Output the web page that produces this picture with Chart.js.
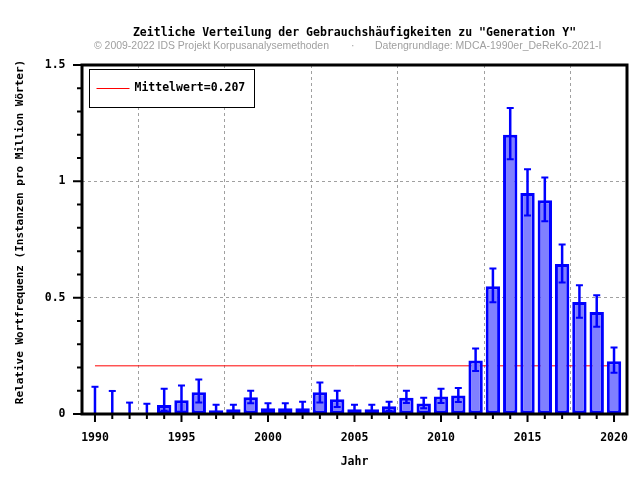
<!DOCTYPE html>
<html>
<head>
<meta charset="utf-8">
<script src="https://cdn.jsdelivr.net/npm/chart.js@4.4.1/dist/chart.umd.min.js"></script>
<style>
  body { margin: 0; background: #fff; }
</style>
</head>
<body>
<canvas id="myChart" width="640" height="480"></canvas>
<script>
const years = [
  1990, 1991, 1992, 1993, 1994, 1995, 1996, 1997, 1998, 1999,
  2000, 2001, 2002, 2003, 2004, 2005, 2006, 2007, 2008, 2009,
  2010, 2011, 2012, 2013, 2014, 2015, 2016, 2017, 2018, 2019, 2020,
];

const values = [
  0, 0, 0, 0, 0.039, 0.059, 0.094, 0.016, 0.020, 0.072,
  0.025, 0.025, 0.025, 0.094, 0.063, 0.020, 0.020, 0.033, 0.070, 0.045,
  0.075, 0.079, 0.230, 0.549, 1.200, 0.950, 0.919, 0.645, 0.481, 0.438, 0.227,
];

const errLow = [
  0, 0, 0, 0, 0.014, 0.010, 0.049, 0.002, 0.003, 0.046,
  0.006, 0.006, 0.004, 0.049, 0.030, 0.003, 0.003, 0.014, 0.047, 0.025,
  0.047, 0.052, 0.185, 0.480, 1.095, 0.853, 0.828, 0.565, 0.414, 0.375, 0.177,
];

const errHigh = [
  0.117, 0.099, 0.049, 0.044, 0.108, 0.122, 0.148, 0.040, 0.040, 0.100,
  0.046, 0.046, 0.053, 0.135, 0.100, 0.040, 0.040, 0.053, 0.100, 0.070,
  0.108, 0.112, 0.282, 0.625, 1.315, 1.052, 1.017, 0.728, 0.553, 0.510, 0.286,
];

const meanValue = 0.207;
const yTicks = [0, 0.5, 1, 1.5];

const monoFont = { family: "'DejaVu Sans Mono', monospace", size: 11.5, weight: "bold" };

// error bars, frame, ticks, legend and header drawn on top
const extras = {
  id: "extras",
  afterDatasetsDraw(chart) {
    const ctx = chart.ctx;
    const xs = chart.scales.x;
    const ys = chart.scales.y;
    const area = chart.chartArea;
    ctx.save();

    // error bars
    ctx.strokeStyle = "#0000ff";
    years.forEach((yr, i) => {
      const px = xs.getPixelForValue(yr);
      const top = ys.getPixelForValue(errHigh[i]);
      const bot = ys.getPixelForValue(errLow[i]);
      ctx.lineWidth = 2.5;
      ctx.beginPath();
      ctx.moveTo(px, bot);
      ctx.lineTo(px, top);
      ctx.stroke();
      ctx.lineWidth = 2;
      ctx.beginPath();
      ctx.moveTo(px - 3.5, top);
      ctx.lineTo(px + 3.5, top);
      if (errLow[i] > 0) {
        ctx.moveTo(px - 3.5, bot);
        ctx.lineTo(px + 3.5, bot);
      }
      ctx.stroke();
    });

    // frame
    ctx.strokeStyle = "#000";
    ctx.lineWidth = 3;
    ctx.strokeRect(area.left, area.top, area.right - area.left, area.bottom - area.top);

    // tick marks
    ctx.lineWidth = 2;
    ctx.beginPath();
    years.forEach((yr) => {
      const px = xs.getPixelForValue(yr);
      const len = yr % 5 === 0 ? 8 : 5;
      ctx.moveTo(px, area.bottom);
      ctx.lineTo(px, area.bottom + len);
    });
    for (let k = 0; k <= 15; k++) {
      const py = ys.getPixelForValue(k / 10);
      const len = k % 5 === 0 ? 9 : 5;
      ctx.moveTo(area.left, py);
      ctx.lineTo(area.left - len, py);
    }
    ctx.stroke();

    // legend
    const lx = area.left + 7.5;
    const ly = area.top + 4.5;
    ctx.fillStyle = "#fff";
    ctx.fillRect(lx, ly, 165, 38);
    ctx.strokeStyle = "#000";
    ctx.lineWidth = 1;
    ctx.strokeRect(lx, ly, 165, 38);
    ctx.strokeStyle = "#ff0000";
    ctx.beginPath();
    ctx.moveTo(lx + 7, ly + 19);
    ctx.lineTo(lx + 40, ly + 19);
    ctx.stroke();
    ctx.fillStyle = "#000";
    ctx.font = "bold 11.5px 'DejaVu Sans Mono', monospace";
    ctx.textBaseline = "middle";
    ctx.textAlign = "left";
    ctx.fillText(chart.data.datasets[1].label, lx + 45, ly + 19);

    // header
    ctx.textAlign = "center";
    ctx.fillText('Zeitliche Verteilung der Gebrauchshäufigkeiten zu "Generation Y"', (area.left + area.right) / 2, 33);

    // y axis title
    ctx.save();
    ctx.font = "bold 11px 'DejaVu Sans Mono', monospace";
    ctx.translate(20, 232);
    ctx.rotate(-Math.PI / 2);
    ctx.fillText("Relative Wortfrequenz (Instanzen pro Million Wörter)", 0, 0);
    ctx.restore();

    ctx.fillStyle = "#a0a0a0";
    ctx.font = "10.5px 'Liberation Sans', Arial, sans-serif";
    ctx.textAlign = "left";
    ctx.fillText("© 2009-2022 IDS Projekt Korpusanalysemethoden", 94, 46, 235);
    ctx.fillText("·", 351, 46);
    ctx.fillText("Datengrundlage: MDCA-1990er_DeReKo-2021-I", 375, 46, 227);
    ctx.restore();
  },
};

const data = {
  datasets: [
    {
      type: "bar",
      label: "Relative Wortfrequenz",
      data: years.map((yr, i) => ({ x: yr, y: values[i] })),
      backgroundColor: "#8080ff",
      borderColor: "#0000ff",
      borderWidth: 3,
      borderSkipped: false,
      barPercentage: 0.83,
      categoryPercentage: 1,
      order: 1,
    },
    {
      type: "line",
      label: "Mittelwert=" + meanValue,
      data: [
        { x: years[0], y: meanValue },
        { x: years[years.length - 1], y: meanValue },
      ],
      borderColor: "#ff0000",
      borderWidth: 1,
      pointRadius: 0,
      order: 2,
    },
  ],
};

const config = {
  type: "bar",
  data: data,
  options: {
    responsive: false,
    animation: false,
    layout: { padding: { top: 65, right: 13, left: 0, bottom: 0 } },
    plugins: {
      legend: { display: false },
      tooltip: { enabled: false },
    },
    scales: {
      x: {
        type: "linear",
        min: 1989.25,
        max: 2020.75,
        offset: false,
        afterFit: (s) => { s.height = 66; s.paddingLeft = 0; s.paddingRight = 0; },
        ticks: {
          stepSize: 5,
          includeBounds: false,
          autoSkip: false,
          maxRotation: 0,
          padding: 17,
          color: "#000",
          font: monoFont,
          callback: (v) => String(v),
        },
        grid: { color: "#a0a0a0", lineWidth: 1, drawTicks: false },
        border: { display: false, dash: [3, 3] },
        title: {
          display: true,
          text: "Jahr",
          color: "#000",
          font: monoFont,
          padding: { top: 0, bottom: 11 },
        },
      },
      y: {
        min: 0,
        max: 1.5,
        afterFit: (s) => { s.width = 82; s.paddingTop = 0; s.paddingBottom = 0; },
        afterBuildTicks: (s) => { s.ticks = yTicks.map((v) => ({ value: v })); },
        ticks: {
          padding: 16.5,
          color: "#000",
          font: monoFont,
          callback: (v) => String(v),
        },
        grid: { color: "#a0a0a0", lineWidth: 1, drawTicks: false },
        border: { display: false, dash: [3, 3] },
      },
    },
  },
  plugins: [extras],
};

const myChart = new Chart(document.getElementById("myChart"), config);
</script>
</body>
</html>
